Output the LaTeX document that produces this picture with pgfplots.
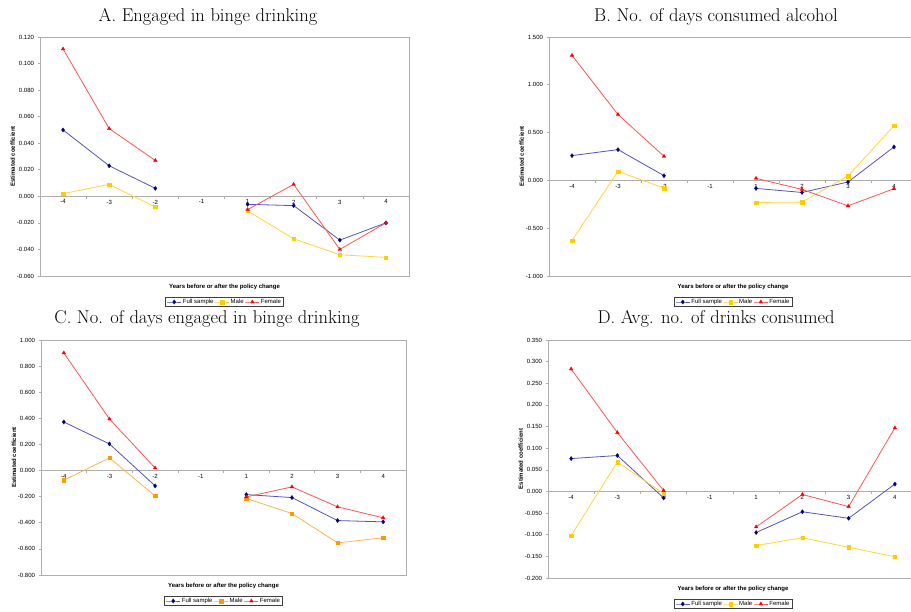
\documentclass[border=0pt]{standalone}
\usepackage{fontspec}
\newfontfamily\arial{Liberation Sans}
\usepackage{pgfplots}
\pgfplotsset{compat=1.18}

\definecolor{axgray}{RGB}{175,175,175}
\definecolor{fullm}{RGB}{0,0,128}
\definecolor{fulll}{RGB}{85,85,185}
\definecolor{malem}{RGB}{255,204,0}
\definecolor{malel}{RGB}{255,214,60}
\definecolor{orm}{RGB}{255,153,0}
\definecolor{orl}{RGB}{255,180,80}
\definecolor{femm}{RGB}{255,0,0}
\definecolor{feml}{RGB}{255,85,85}

\newcommand{\smallsans}{\arial\fontsize{6}{7}\selectfont}
\newcommand{\titlefont}{\fontsize{18.5}{22}\selectfont}

\pgfplotsset{
  panel/.style={
    scale only axis, clip=false,
    xmin=-0.5, xmax=7.5,
    axis x line*=middle, axis y line*=left,
    axis line style={draw=axgray, line width=0.6pt},
    xtick={0.5,1.5,...,6.5}, xticklabels={},
    extra x ticks={0,1,...,7},
    extra x tick labels={-4,-3,-2,-1,1,2,3,4},
    extra x tick style={major tick length=0pt},
    tick align=outside, major tick length=2.5pt,
    tick style={draw=axgray, line width=0.6pt},
    tick label style={font=\smallsans, text=black},
    yticklabel style={/pgf/number format/.cd, fixed, fixed zerofill, precision=3, assume math mode=true},
    every axis x label/.style={at={(axis description cs:0.5,0)}, anchor=center, yshift=-11pt, font=\arial\bfseries\fontsize{6}{7}\selectfont},
    every axis y label/.style={at={(axis description cs:-0.074,0.5)}, rotate=90, anchor=center, font=\arial\bfseries\fontsize{6}{7}\selectfont},
    xlabel={Years before or after the policy change},
    ylabel={Estimated coefficient},
    unbounded coords=jump,
    legend style={at={(0.5,0)}, anchor=center, yshift=-26pt, legend columns=3,
      draw=black!75, line width=0.4pt, font=\smallsans, inner xsep=1.5pt, inner ysep=0.5pt,
      nodes={inner xsep=1.2pt, inner ysep=1pt},
      /tikz/every even column/.append style={column sep=0pt}},
    legend image code/.code={\draw[mark repeat=2, mark phase=2, #1] plot coordinates {(0pt,0pt) (7pt,0pt) (14pt,0pt)};},
  },
  fullS/.style={color=fulll, line width=0.8pt, mark=diamond*, mark size=2.1pt, mark options={draw=fullm, fill=fullm, line width=0.3pt}},
  maleS/.style={color=malel, line width=0.8pt, mark=square*, mark size=1.7pt, mark options={draw=malem, fill=malem, line width=0.3pt}},
  orS/.style={color=orl, line width=0.8pt, mark=square*, mark size=1.7pt, mark options={draw=orm, fill=orm, line width=0.3pt}},
  femS/.style={color=feml, line width=0.8pt, mark=triangle*, mark size=2.1pt, mark options={draw=femm, fill=femm, line width=0.3pt}},
}

\begin{document}
\begin{tikzpicture}
\useasboundingbox (0pt,0pt) rectangle (911pt,612pt);
\fill[white] (0pt,0pt) rectangle (911pt,612pt);
\clip (0pt,0pt) rectangle (911pt,612pt);

% ---------- A ----------
\begin{axis}[panel, at={(40pt,336pt)}, anchor=south west, width=369pt, height=239pt,
  ymin=-0.06, ymax=0.12, ytick={-0.06,-0.04,-0.02,0,0.02,0.04,0.06,0.08,0.1,0.12}]
\draw[axgray, line width=0.6pt] (rel axis cs:0,0) rectangle (rel axis cs:1,1);
\addplot[fullS] coordinates {(0,0.050) (1,0.023) (2,0.006) (3,nan) (4,-0.006) (5,-0.007) (6,-0.033) (7,-0.020)};
\addplot[maleS] coordinates {(0,0.002) (1,0.009) (2,-0.008) (3,nan) (4,-0.011) (5,-0.032) (6,-0.044) (7,-0.046)};
\addplot[femS] coordinates {(0,0.111) (1,0.051) (2,0.027) (3,nan) (4,-0.010) (5,0.009) (6,-0.040) (7,-0.020)};
\legend{Full sample, Male, Female}
\end{axis}

% ---------- B ----------
\begin{axis}[panel, at={(549pt,336pt)}, anchor=south west, width=368pt, height=239pt,
  ymin=-1, ymax=1.5, ytick={-1,-0.5,0,0.5,1,1.5}]
\draw[axgray, line width=0.6pt] (rel axis cs:0,0) rectangle (rel axis cs:1,1);
\addplot[fullS] coordinates {(0,0.259) (1,0.322) (2,0.049) (3,nan) (4,-0.084) (5,-0.126) (6,-0.017) (7,0.350)};
\addplot[maleS] coordinates {(0,-0.629) (1,0.094) (2,-0.080) (3,nan) (4,-0.231) (5,-0.227) (6,0.045) (7,0.573)};
\addplot[femS] coordinates {(0,1.308) (1,0.689) (2,0.252) (3,nan) (4,0.021) (5,-0.094) (6,-0.266) (7,-0.087)};
\legend{Full sample, Male, Female}
\end{axis}

% ---------- C ----------
\begin{axis}[panel, at={(41pt,37pt)}, anchor=south west, width=365pt, height=235pt,
  ymin=-0.8, ymax=1.0, ytick={-0.8,-0.6,-0.4,-0.2,0,0.2,0.4,0.6,0.8,1.0}]
\draw[axgray, line width=0.6pt] (rel axis cs:0,0) rectangle (rel axis cs:1,1);
\addplot[fullS] coordinates {(0,0.372) (1,0.204) (2,-0.117) (3,nan) (4,-0.184) (5,-0.207) (6,-0.383) (7,-0.393)};
\addplot[orS] coordinates {(0,-0.074) (1,0.097) (2,-0.194) (3,nan) (4,-0.214) (5,-0.329) (6,-0.554) (7,-0.515)};
\addplot[femS] coordinates {(0,0.901) (1,0.395) (2,0.020) (3,nan) (4,-0.202) (5,-0.125) (6,-0.278) (7,-0.362)};
\legend{Full sample, Male, Female}
\end{axis}

% ---------- D ----------
\begin{axis}[panel, at={(548pt,34pt)}, anchor=south west, width=370pt, height=238pt,
  ymin=-0.2, ymax=0.35, ytick={-0.2,-0.15,-0.1,-0.05,0,0.05,0.1,0.15,0.2,0.25,0.3,0.35}]
\draw[axgray, line width=0.6pt] (rel axis cs:0,0) rectangle (rel axis cs:1,1);
\addplot[fullS] coordinates {(0,0.076) (1,0.083) (2,-0.015) (3,nan) (4,-0.095) (5,-0.047) (6,-0.062) (7,0.017)};
\addplot[maleS] coordinates {(0,-0.102) (1,0.068) (2,-0.005) (3,nan) (4,-0.125) (5,-0.107) (6,-0.129) (7,-0.151)};
\addplot[femS] coordinates {(0,0.283) (1,0.136) (2,0.002) (3,nan) (4,-0.082) (5,-0.007) (6,-0.035) (7,0.147)};
\legend{Full sample, Male, Female}
\end{axis}

% ---------- titles ----------
\node[anchor=base, font=\titlefont, inner sep=0pt] at (208pt,590pt) {A. Engaged in binge drinking};
\node[anchor=base, font=\titlefont, inner sep=0pt] at (716pt,590pt) {B. No. of days consumed alcohol};
\node[anchor=base, font=\titlefont, inner sep=0pt] at (207pt,288pt) {C. No. of days engaged in binge drinking};
\node[anchor=base, font=\titlefont, inner sep=0pt] at (716pt,288pt) {D. Avg. no. of drinks consumed};
\end{tikzpicture}
\end{document}
